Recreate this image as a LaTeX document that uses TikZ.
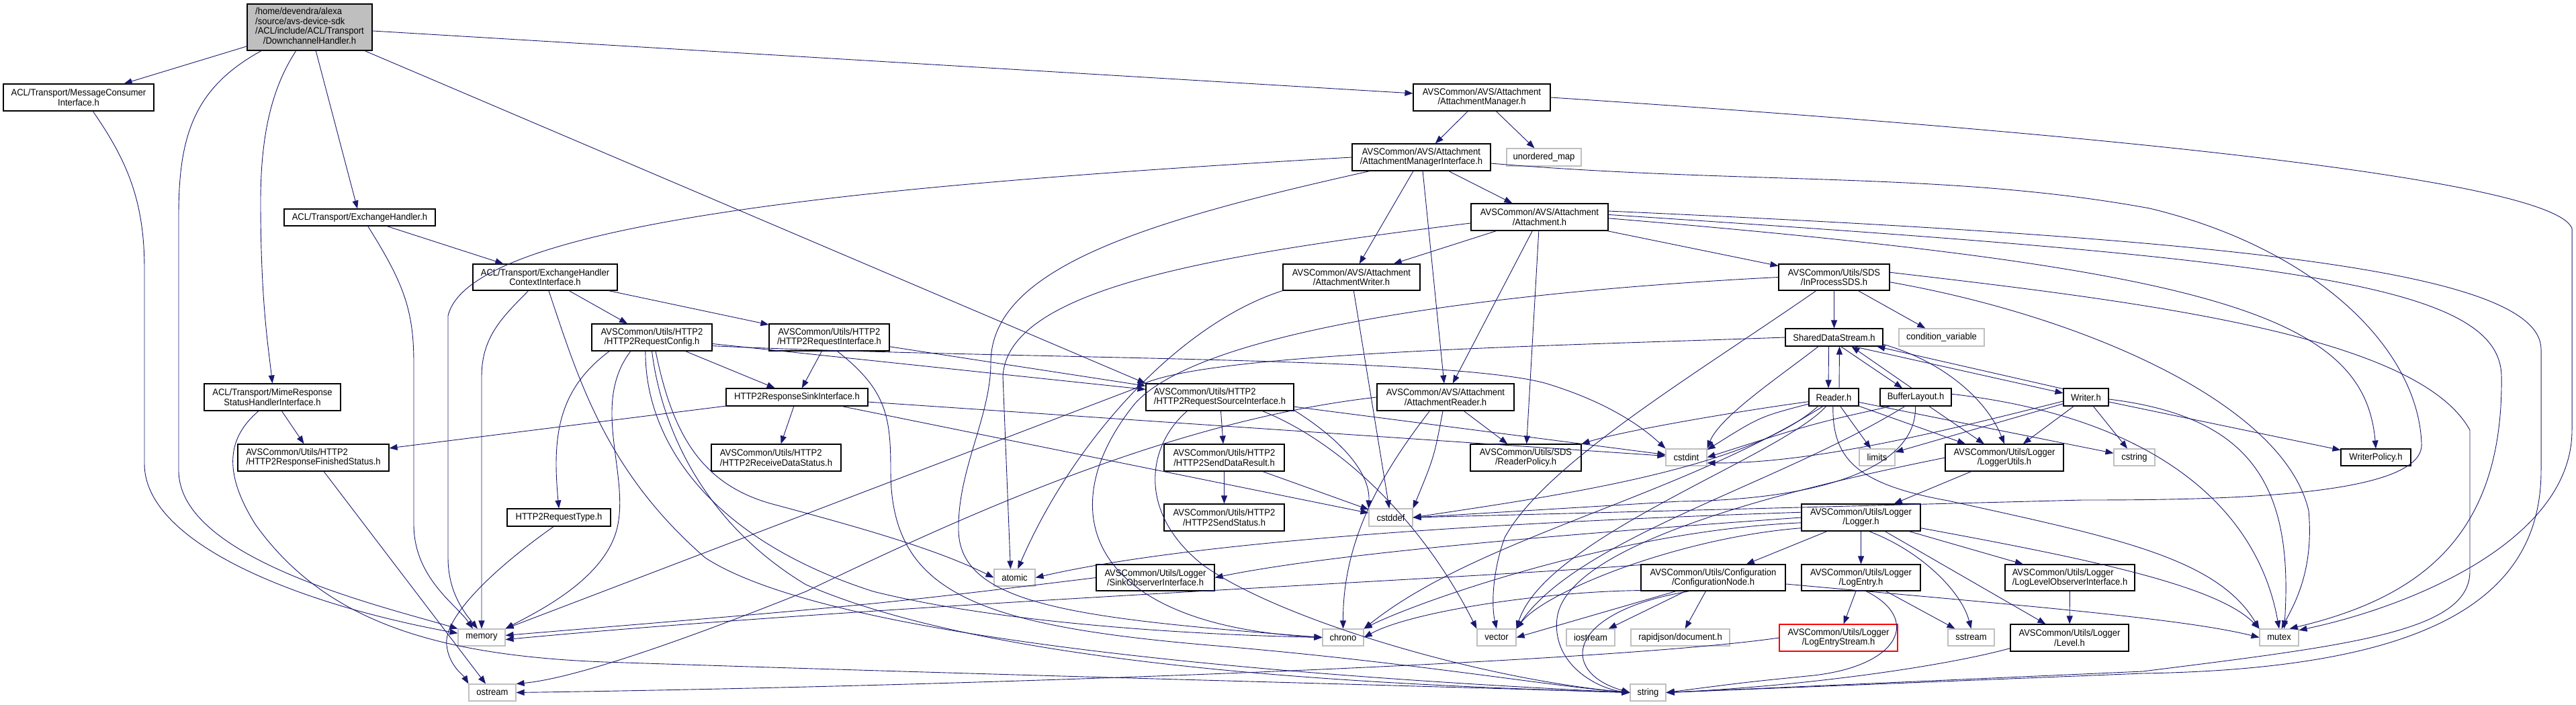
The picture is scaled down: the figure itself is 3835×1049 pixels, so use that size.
\documentclass[tikz,border=0pt]{standalone}
\usepackage{fontspec}
\setmainfont{Liberation Sans}[FakeStretch=0.93]
\usepackage{tikz}
\usetikzlibrary{arrows.meta}
\definecolor{edgeblue}{RGB}{25,25,112}
\definecolor{sysgray}{RGB}{191,191,191}
\definecolor{rootgray}{RGB}{191,191,191}

\begin{document}
\begin{tikzpicture}[x=1pt, y=-1pt, font=\fontsize{14}{14.2}\selectfont]
  \tikzset{
    hdr/.style={draw=black, fill=white, line width=1.1pt, inner sep=0pt, align=center},
    sys/.style={hdr, draw=sysgray},
    dep/.style={draw=edgeblue, line width=0.9pt, -{Triangle[length=12pt,width=9pt]}},
  }
  \useasboundingbox (0,0) rectangle (3835,1049);

  % File nodes, row by row
  \node[hdr, fill=rootgray, minimum width=186pt, minimum height=69pt] (root) at (461,40.5)
    {\begin{tabular}{@{}l@{}}/home/devendra/alexa\\/source/avs-device-sdk\\/ACL/include/ACL/Transport\\\multicolumn{1}{@{}c@{}}{/DownchannelHandler.h}\end{tabular}};
  \node[hdr, minimum width=224pt, minimum height=40pt] (msgc) at (117,145) {ACL/Transport/MessageConsumer\\Interface.h};
  \node[hdr, minimum width=204pt, minimum height=40pt] (amgr) at (2206,145) {AVSCommon/AVS/Attachment\\/AttachmentManager.h};
  \node[hdr, minimum width=206pt, minimum height=40pt] (ami) at (2116,234) {AVSCommon/AVS/Attachment\\/AttachmentManagerInterface.h};
  \node[sys, minimum width=111pt, minimum height=26pt] (umap) at (2298.5,234) {unordered\_map};
  \node[hdr, minimum width=225pt, minimum height=25pt] (exch) at (535.5,323.5) {ACL/Transport/ExchangeHandler.h};
  \node[hdr, minimum width=204pt, minimum height=40pt] (att) at (2292,323) {AVSCommon/AVS/Attachment\\/Attachment.h};
  \node[hdr, minimum width=215pt, minimum height=39pt] (eci) at (811.5,412.5) {ACL/Transport/ExchangeHandler\\ContextInterface.h};
  \node[hdr, minimum width=204pt, minimum height=39pt] (attw) at (2012,412.5) {AVSCommon/AVS/Attachment\\/AttachmentWriter.h};
  \node[hdr, minimum width=165pt, minimum height=39pt] (inproc) at (2730.5,412.5) {AVSCommon/Utils/SDS\\/InProcessSDS.h};
  \node[hdr, minimum width=179pt, minimum height=40pt] (reqcfg) at (970.5,502) {AVSCommon/Utils/HTTP2\\/HTTP2RequestConfig.h};
  \node[hdr, minimum width=179pt, minimum height=40pt] (reqif) at (1234.5,502) {AVSCommon/Utils/HTTP2\\/HTTP2RequestInterface.h};
  \node[hdr, minimum width=145pt, minimum height=26pt] (sds) at (2730.5,502) {SharedDataStream.h};
  \node[sys, minimum width=127pt, minimum height=26pt] (condvar) at (2890.5,502) {condition\_variable};
  \node[hdr, minimum width=203pt, minimum height=40pt] (mime) at (405.5,591) {ACL/Transport/MimeResponse\\StatusHandlerInterface.h};
  \node[hdr, minimum width=211pt, minimum height=26pt] (sink) at (1186.5,591) {HTTP2ResponseSinkInterface.h};
  \node[hdr, align=left, minimum width=220pt, minimum height=40pt] (srcif) at (1816,591) {AVSCommon/Utils/HTTP2\\/HTTP2RequestSourceInterface.h};
  \node[hdr, minimum width=204pt, minimum height=40pt] (attr) at (2152,591) {AVSCommon/AVS/Attachment\\/AttachmentReader.h};
  \node[hdr, minimum width=74pt, minimum height=26pt] (reader) at (2730,591) {Reader.h};
  \node[hdr, minimum width=106pt, minimum height=26pt] (buflay) at (2852,591) {BufferLayout.h};
  \node[hdr, minimum width=67pt, minimum height=26pt] (writer) at (3105.5,591) {Writer.h};
  \node[hdr, align=left, minimum width=225pt, minimum height=40pt] (finst) at (466.5,681) {AVSCommon/Utils/HTTP2\\/HTTP2ResponseFinishedStatus.h};
  \node[hdr, align=left, minimum width=193pt, minimum height=40pt] (recv) at (1155.5,681) {AVSCommon/Utils/HTTP2\\/HTTP2ReceiveDataStatus.h};
  \node[hdr, minimum width=179pt, minimum height=40pt] (sdres) at (1822.5,681) {AVSCommon/Utils/HTTP2\\/HTTP2SendDataResult.h};
  \node[hdr, minimum width=165pt, minimum height=40pt] (rpol) at (2271.5,681) {AVSCommon/Utils/SDS\\/ReaderPolicy.h};
  \node[sys, minimum width=61pt, minimum height=25pt] (cstdint) at (2510.5,680.5) {cstdint};
  \node[sys, minimum width=53pt, minimum height=25pt] (limits) at (2794.5,680.5) {limits};
  \node[hdr, minimum width=176pt, minimum height=40pt] (logutil) at (2984,681) {AVSCommon/Utils/Logger\\/LoggerUtils.h};
  \node[sys, minimum width=61pt, minimum height=25pt] (cstring) at (3177.5,680.5) {cstring};
  \node[hdr, minimum width=104pt, minimum height=25pt] (wpol) at (3537,680.5) {WriterPolicy.h};
  \node[hdr, minimum width=154pt, minimum height=26pt] (reqtype) at (832,770) {HTTP2RequestType.h};
  \node[hdr, minimum width=179pt, minimum height=40pt] (sdst) at (1822.5,770) {AVSCommon/Utils/HTTP2\\/HTTP2SendStatus.h};
  \node[sys, minimum width=65pt, minimum height=26pt] (cstddef) at (2070.5,770) {cstddef};
  \node[hdr, minimum width=177pt, minimum height=40pt] (logger) at (2770.5,770) {AVSCommon/Utils/Logger\\/Logger.h};
  \node[sys, minimum width=61pt, minimum height=25pt] (atomic) at (1510.5,859.5) {atomic};
  \node[hdr, minimum width=176pt, minimum height=39pt] (sinkobs) at (1720,859.5) {AVSCommon/Utils/Logger\\/SinkObserverInterface.h};
  \node[hdr, minimum width=215pt, minimum height=39pt] (confnode) at (2550.5,859.5) {AVSCommon/Utils/Configuration\\/ConfigurationNode.h};
  \node[hdr, minimum width=177pt, minimum height=39pt] (logentry) at (2770.5,859.5) {AVSCommon/Utils/Logger\\/LogEntry.h};
  \node[hdr, align=left, minimum width=193pt, minimum height=39pt] (loglvlobs) at (3081.5,859.5) {AVSCommon/Utils/Logger\\/LogLevelObserverInterface.h};
  \node[sys, minimum width=70pt, minimum height=25pt] (memory) at (717,948.5) {memory};
  \node[sys, minimum width=61pt, minimum height=25pt] (chrono) at (1999.5,948.5) {chrono};
  \node[sys, minimum width=58pt, minimum height=25pt] (vector) at (2228,948.5) {vector};
  \node[sys, minimum width=72pt, minimum height=25pt] (iostream) at (2368,948.5) {iostream};
  \node[sys, minimum width=147pt, minimum height=25pt] (rapid) at (2501.5,948.5) {rapidjson/document.h};
  \node[hdr, draw=red, minimum width=176pt, minimum height=40pt] (logstream) at (2737,949) {AVSCommon/Utils/Logger\\/LogEntryStream.h};
  \node[sys, minimum width=69pt, minimum height=25pt] (sstream) at (2934.5,948.5) {sstream};
  \node[hdr, minimum width=176pt, minimum height=40pt] (level) at (3081,949) {AVSCommon/Utils/Logger\\/Level.h};
  \node[sys, minimum width=58pt, minimum height=25pt] (mutex) at (3393,948.5) {mutex};
  \node[sys, minimum width=70pt, minimum height=25pt] (ostream) at (733,1030.5) {ostream};
  \node[sys, minimum width=53pt, minimum height=25pt] (string) at (2453.5,1030.5) {string};

  % DownchannelHandler.h includes
  \draw[dep] (root) -- (msgc);
  \draw[dep] (root.-154) .. controls (290,130) and (266,200) .. (266,320) -- (266,700) .. controls (266,830) and (560,900) .. (memory.north west);
  \draw[dep] (root.-120) .. controls (405,130) and (388,200) .. (388,300) .. controls (388,450) and (400,520) .. (mime.north);
  \draw[dep] (root) -- (exch);
  \draw[dep] (root) -- (amgr);
  \draw[dep] (root) -- (srcif.north west);

  % ACL transport headers
  \draw[dep] (msgc.-44) .. controls (190,240) and (215,300) .. (215,400) -- (215,690) .. controls (215,810) and (450,900) .. (memory.170);
  \draw[dep] (exch) -- (eci);
  \draw[dep] (exch.-47) .. controls (600,420) and (616,460) .. (616,540) -- (616,780) .. controls (616,860) and (680,900) .. (memory.135);
  \draw[dep] (eci.-141) .. controls (750,470) and (717,500) .. (717,560) -- (memory.north);
  \draw[dep] (eci.-75) .. controls (860,560) and (900,700) .. (1050,830) .. controls (1250,960) and (2000,1010) .. (string.west);
  \draw[dep] (eci) -- (reqcfg);
  \draw[dep] (eci) -- (reqif);
  \draw[dep] (mime) -- (finst);
  \draw[dep] (mime.-135) .. controls (340,650) and (330,700) .. (380,780) .. controls (480,920) and (640,975) .. (900,985) .. controls (1500,1005) and (2100,1020) .. (string.west);
  \draw[dep] (finst) -- (ostream);

  % HTTP2 headers
  \draw[dep] (sink) -- (finst);
  \draw[dep] (sink) -- (recv);
  \draw[dep] (sink) -- (cstddef);
  \draw[dep] (sink) -- (cstdint);
  \draw[dep] (reqcfg.-162) .. controls (830,580) and (822,650) .. (reqtype.north);
  \draw[dep] (reqcfg.-147) .. controls (880,600) and (935,700) .. (920,780) .. controls (905,860) and (800,910) .. (memory.north east);
  \draw[dep] (reqcfg.-115) .. controls (960,650) and (1050,800) .. (1300,880) .. controls (1500,930) and (1800,945) .. (chrono.west);
  \draw[dep] (reqcfg.south) .. controls (985,640) and (1050,780) .. (1200,870) .. controls (1500,1000) and (2100,1020) .. (string.west);
  \draw[dep] (reqcfg.-75) .. controls (1000,640) and (1040,720) .. (1150,750) .. controls (1300,790) and (1400,820) .. (atomic.west);
  \draw[dep] (reqcfg) -- (sink);
  \draw[dep] (reqcfg) -- (srcif);
  \draw[dep] (reqcfg.-8) .. controls (1500,535) and (2150,530) .. (2300,570) .. controls (2400,600) and (2450,640) .. (cstdint.north west);
  \draw[dep] (reqif) -- (sink);
  \draw[dep] (reqif) -- (srcif);
  \draw[dep] (reqif.-60) .. controls (1320,580) and (1326,620) .. (1326,700) .. controls (1326,880) and (1450,930) .. (1800,960) .. controls (2100,985) and (2300,1020) .. (string.west);
  \draw[dep] (srcif) -- (sdres);
  \draw[dep] (srcif.-10) .. controls (1990,650) and (2040,700) .. (cstddef.north west);
  \draw[dep] (srcif) -- (cstdint);
  \draw[dep] (srcif.-18) .. controls (2000,660) and (2120,780) .. (vector.north west);
  \draw[dep] (srcif.-157) .. controls (1710,660) and (1690,760) .. (1790,840) .. controls (1900,920) and (2200,1010) .. (string.west);
  \draw[dep] (sdres) -- (sdst);
  \draw[dep] (sdres) -- (cstddef);
  \draw[dep] (reqtype.-120) .. controls (730,850) and (660,920) .. (665,960) .. controls (668,990) and (690,1005) .. (ostream.north west);

  % Attachment headers
  \draw[dep] (amgr) -- (ami);
  \draw[dep] (amgr) -- (umap);
  \draw[dep] (amgr.east) .. controls (3000,190) and (3800,260) .. (3829,340) -- (3829,640) .. controls (3829,800) and (3600,900) .. (mutex.20);
  \draw[dep] (ami.west) .. controls (1300,275) and (700,330) .. (667,470) -- (667,830) .. controls (667,880) and (690,910) .. (memory.115);
  \draw[dep] (ami.-165) .. controls (1700,330) and (1475,400) .. (1475,540) .. controls (1475,620) and (1425,700) .. (1427,790) .. controls (1430,900) and (1600,920) .. (chrono.west);
  \draw[dep] (ami) -- (attw);
  \draw[dep] (ami) -- (attr);
  \draw[dep] (ami) -- (att);
  \draw[dep] (ami.-5) .. controls (2600,275) and (2900,255) .. (3200,310) .. controls (3450,370) and (3600,520) .. (3605,660) .. controls (3610,740) and (3300,744) .. (3100,744) -- (cstddef.east);
  \draw[dep] (att) -- (attw);
  \draw[dep] (att) -- (attr);
  \draw[dep] (att) -- (rpol);
  \draw[dep] (att) -- (inproc);
  \draw[dep] (att.-175) .. controls (1800,380) and (1500,430) .. (1493,560) -- (atomic.115);
  \draw[dep] (att.5) .. controls (3300,355) and (3783,400) .. (3783,520) -- (3783,700) .. controls (3783,900) and (3600,995) .. (3190,1002) -- (string.east);
  \draw[dep] (att.2) .. controls (3400,385) and (3722,420) .. (3724,560) .. controls (3727,800) and (3600,890) .. (mutex.40);
  \draw[dep] (att.-1) .. controls (3300,400) and (3520,470) .. (wpol.north);
  \draw[dep] (attw) -- (cstddef);
  \draw[dep] (attw.south west) .. controls (1760,480) and (1600,650) .. (atomic.70);
  \draw[dep] (attr.-139) .. controls (2060,700) and (1999,800) .. (chrono.north);
  \draw[dep] (attr.-101) .. controls (2135,680) .. (cstddef.north east);
  \draw[dep] (attr) -- (rpol);
  \draw[dep] (attr.west) .. controls (1750,625) and (1450,760) .. (1200,880) .. controls (1000,960) and (850,1010) .. (ostream.north east);

  % SDS headers
  \draw[dep] (inproc) -- (sds);
  \draw[dep] (inproc) -- (condvar);
  \draw[dep] (inproc.-143) .. controls (2520,560) and (2300,690) .. (2240,800) .. controls (2222,850) and (2220,900) .. (vector.north);
  \draw[dep] (inproc.5) .. controls (3200,450) and (3600,500) .. (3677,640) -- (3677,850) .. controls (3677,940) and (3500,960) .. (3190,999) -- (string.east);
  \draw[dep] (inproc.-5) .. controls (3100,470) and (3400,600) .. (3437,760) .. controls (3445,850) and (3415,900) .. (mutex.75);
  \draw[dep] (inproc.west) .. controls (2300,430) and (1800,480) .. (1690,600) .. controls (1560,760) and (1620,930) .. (chrono.west);
  \draw[dep] ([xshift=-8pt]sds.south) -- ([xshift=-8pt]reader.north);
  \draw[dep] ([xshift=8pt]reader.north) -- ([xshift=8pt]sds.south);
  \draw[dep] ([xshift=10pt]sds.south) -- ([xshift=-20pt]buflay.north);
  \draw[dep] ([xshift=-6pt]buflay.north) -- ([xshift=26pt]sds.south);
  \draw[dep] (sds.-25) -- (writer.170);
  \draw[dep] (writer.160) -- (sds.-12);
  \draw[dep] (sds.-8) .. controls (2900,540) and (2960,600) .. (logutil.north);
  \draw[dep] (sds.-150) .. controls (2650,560) and (2560,620) .. (cstdint.north east);
  \draw[dep] (sds.west) .. controls (2300,515) and (1760,525) .. (1690,578) -- (memory.north east);
  \draw[dep] (reader.-165) .. controls (2620,620) .. (cstdint.20);
  \draw[dep] (reader.-150) .. controls (2600,700) and (2300,740) .. (cstddef.east);
  \draw[dep] (reader.-130) .. controls (2650,680) and (2300,800) .. (vector.north east);
  \draw[dep] (reader) -- (limits);
  \draw[dep] (reader) -- (logutil);
  \draw[dep] (reader) -- (cstring);
  \draw[dep] (reader.-170) .. controls (2600,610) and (2420,640) .. (rpol.north east);
  \draw[dep] (reader.-95) .. controls (2728,680) and (2760,720) .. (2900,745) .. controls (3150,800) and (3300,830) .. (mutex.north west);
  \draw[dep] (reader.-140) .. controls (2500,740) and (2200,800) .. (chrono.north east);
  \draw[dep] (buflay) -- (logutil);
  \draw[dep] (buflay.-160) .. controls (2700,630) .. (cstdint.east);
  \draw[dep] (buflay.-92) .. controls (2854,700) and (2700,744) .. (2500,746) -- (cstddef.east);
  \draw[dep] (buflay.-140) .. controls (2650,720) and (2350,800) .. (vector.north east);
  \draw[dep] (buflay.5) .. controls (3200,620) and (3360,750) .. (mutex.north);
  \draw[dep] (writer) -- (limits);
  \draw[dep] (writer) -- (logutil);
  \draw[dep] (writer) -- (cstring);
  \draw[dep] (writer) -- (wpol);
  \draw[dep] (writer.-5) .. controls (3350,620) and (3415,720) .. (mutex.60);
  \draw[dep] (writer.-170) .. controls (2900,640) and (2700,690) .. (cstdint.-15);

  % Logger headers
  \draw[dep] (logutil) -- (logger);
  \draw[dep] (logutil.west) .. controls (2600,740) and (2330,820) .. (2318,920) .. controls (2310,990) and (2380,1025) .. (string.west);
  \draw[dep] (logger) -- (confnode);
  \draw[dep] (logger) -- (logentry);
  \draw[dep] (logger) -- (loglvlobs);
  \draw[dep] (logger) -- (level);
  \draw[dep] (logger.-60) .. controls (2860,820) and (2920,880) .. (sstream.north);
  \draw[dep] (logger.west) .. controls (2400,790) and (2000,820) .. (sinkobs.east);
  \draw[dep] (logger.175) .. controls (2300,775) and (1800,800) .. (atomic.east);
  \draw[dep] (logger.-175) .. controls (2400,790) and (2100,900) .. (chrono.north east);
  \draw[dep] (logger.-170) .. controls (2500,800) and (2300,880) .. (vector.north east);
  \draw[dep] (logger.-10) .. controls (3100,830) and (3300,870) .. (mutex.north west);
  \draw[dep] (logentry) -- (logstream);
  \draw[dep] (logentry) -- (sstream);
  \draw[dep] (logentry.-70) .. controls (2860,920) and (2830,990) .. (2700,1005) .. controls (2600,1015) .. (string.east);
  \draw[dep] (loglvlobs) -- (level);
  \draw[dep] (level.-170) .. controls (2900,990) and (2700,1020) .. (string.east);
  \draw[dep] (logstream.west) .. controls (2400,985) and (1500,1020) .. (ostream.east);
  \draw[dep] (sinkobs.west) .. controls (1300,900) .. (memory.5);
  \draw[dep] (confnode.-170) .. controls (2300,880) and (2100,910) .. (chrono.east);
  \draw[dep] (confnode.-160) -- (vector.east);
  \draw[dep] (confnode) -- (iostream);
  \draw[dep] (confnode) -- (rapid);
  \draw[dep] (confnode.-150) .. controls (2330,910) and (2320,1000) .. (string.west);
  \draw[dep] (confnode.-5) .. controls (3000,900) and (3250,920) .. (mutex.west);
  \draw[dep] (confnode.170) .. controls (2200,860) and (1300,900) .. (memory.-5);
\end{tikzpicture}
\end{document}
